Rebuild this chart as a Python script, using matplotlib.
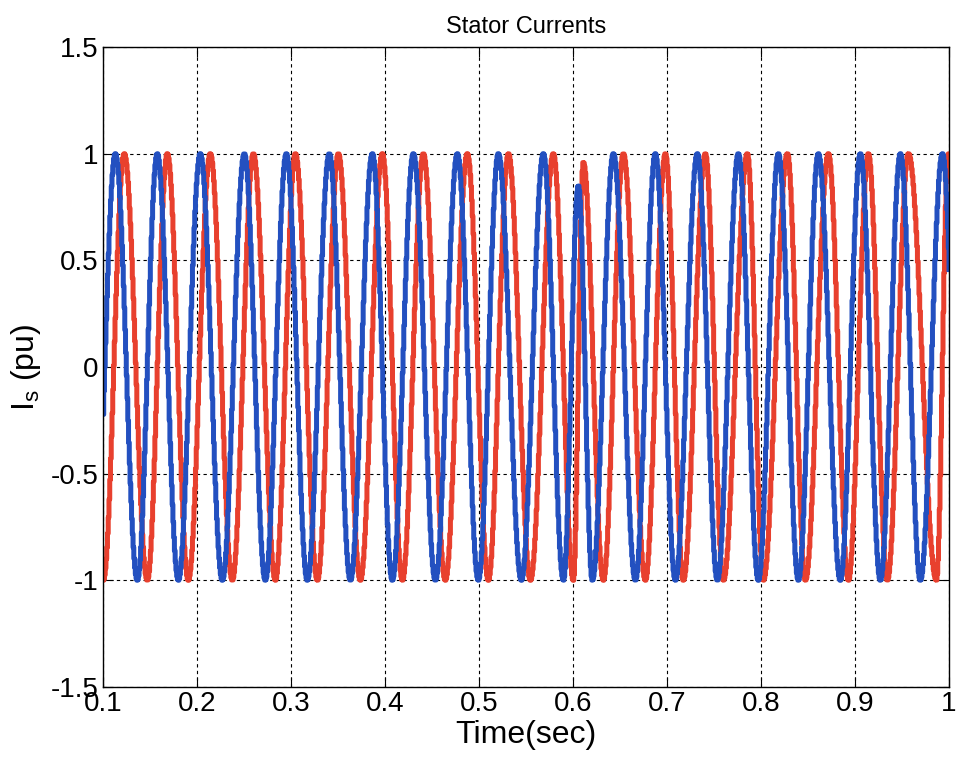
import numpy as np
import matplotlib.pyplot as plt

plt.rcParams['font.family'] = ['Liberation Sans Narrow', 'Liberation Sans', 'DejaVu Sans']

# extrema of the two phase currents (time in s, value in pu)
blue_peak_t = [0.1128, 0.1574, 0.2032, 0.2500, 0.2947, 0.3404, 0.3862, 0.4298,
               0.4766, 0.5202, 0.5681, 0.6053, 0.6426, 0.6872, 0.7319, 0.7755,
               0.8181, 0.8606, 0.9053, 0.9479, 0.9926]
blue_peak_v = [1.0] * 11 + [0.85] + [1.0] * 9
blue_trough_t = [0.0904, 0.1362, 0.1798, 0.2266, 0.2723, 0.3170, 0.3628, 0.4074,
                 0.4532, 0.4989, 0.5447, 0.5894, 0.6202, 0.6660, 0.7085, 0.7532,
                 0.7968, 0.8394, 0.8840, 0.9266, 0.9691, 1.0138]
blue_trough_v = [-1.0] * 22

red_peak_t = [0.0777, 0.1223, 0.1681, 0.2138, 0.2596, 0.3043, 0.3500, 0.3968,
              0.4404, 0.4872, 0.5309, 0.5787, 0.6106, 0.6532, 0.6979, 0.7404,
              0.7851, 0.8277, 0.8713, 0.9138, 0.9564, 0.9989]
red_peak_v = [1.0] * 12 + [0.96] + [1.0] * 9
red_trough_t = [0.1000, 0.1468, 0.1904, 0.2372, 0.2830, 0.3277, 0.3734, 0.4181,
                0.4638, 0.5096, 0.5543, 0.6000, 0.6319, 0.6766, 0.7170, 0.7596,
                0.8021, 0.8468, 0.8926, 0.9340, 0.9862, 1.0223]
red_trough_v = [-1.0] * 22


def wave(pk_t, pk_v, tr_t, tr_v, t):
    # half-cosine segments between successive extrema
    et = np.array(pk_t + tr_t)
    ev = np.array(pk_v + tr_v)
    o = np.argsort(et)
    et, ev = et[o], ev[o]
    i = np.clip(np.searchsorted(et, t) - 1, 0, len(et) - 2)
    s = (t - et[i]) / (et[i + 1] - et[i])
    return ev[i] + (ev[i + 1] - ev[i]) * (1 - np.cos(np.pi * s)) / 2


t = np.arange(0.1, 1.0005, 0.0008)
ia = wave(blue_peak_t, blue_peak_v, blue_trough_t, blue_trough_v, t)
ib = wave(red_peak_t, red_peak_v, red_trough_t, red_trough_v, t)

fig = plt.figure(figsize=(9.56, 7.58), dpi=100)
ax = fig.add_axes([0.1077, 0.0937, 0.885, 0.8443])

ax.plot(t, ib, color='#e8402e', lw=3.6, drawstyle='steps-post')
ax.plot(t, ia, color='#2350c0', lw=3.6, drawstyle='steps-post')

ax.set_xlim(0.1, 1.0)
ax.set_ylim(-1.5, 1.5)
ax.set_xticks(np.arange(0.1, 1.01, 0.1))
ax.set_xticklabels(['0.1', '0.2', '0.3', '0.4', '0.5', '0.6', '0.7', '0.8', '0.9', '1'])
ax.set_yticks([-1.5, -1, -0.5, 0, 0.5, 1, 1.5])
ax.set_yticklabels(['-1.5', '-1', '-0.5', '0', '0.5', '1', '1.5'])
ax.tick_params(direction='in', top=True, right=True, labelsize=20, length=7, pad=3)
ax.grid(True, color='black', linestyle=(0, (3, 3)), lw=0.8)
for sp in ax.spines.values():
    sp.set_linewidth(1.0)

ax.set_title('Stator Currents', fontsize=17, pad=10)
ax.set_xlabel('Time(sec)', fontsize=23, labelpad=2)
ax.set_ylabel('I$_{\\mathregular{s}}$ (pu)', fontsize=23, labelpad=6)

fig.savefig('out.png', dpi=100)
